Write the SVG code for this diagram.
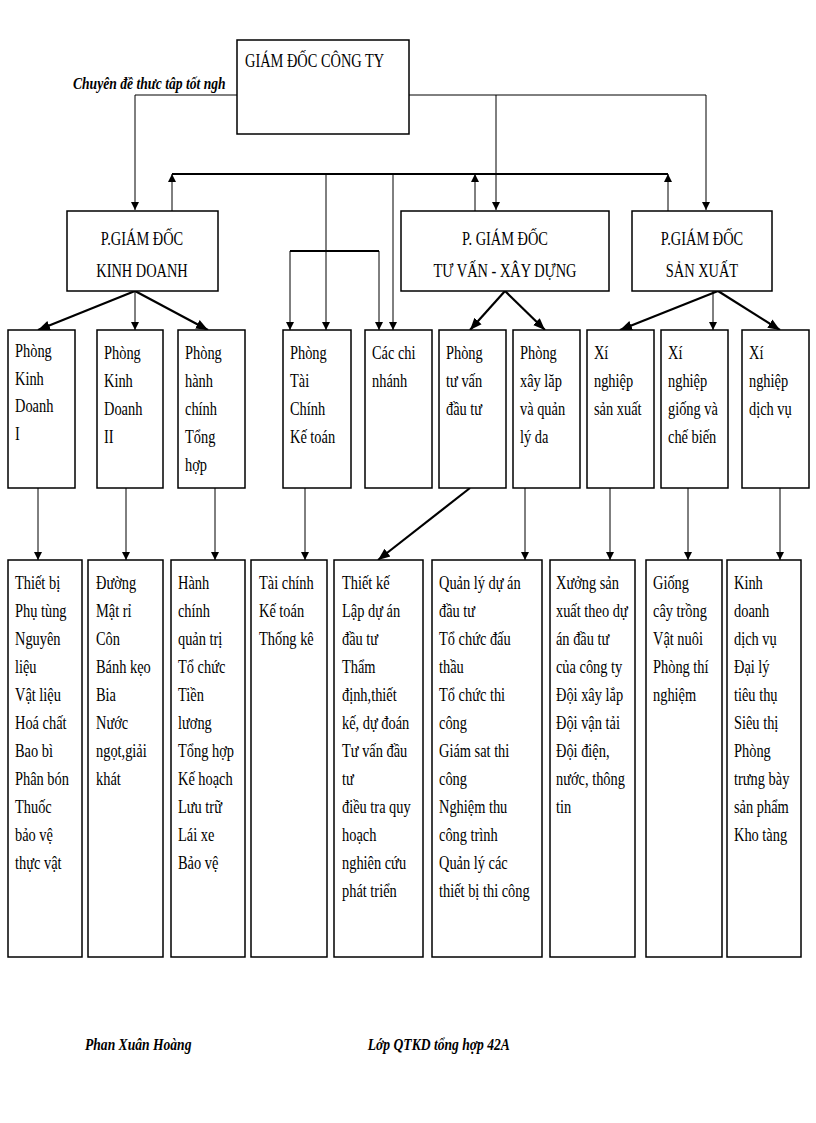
<svg xmlns="http://www.w3.org/2000/svg" width="816" height="1123" viewBox="0 0 816 1123">
<style>
rect{fill:#fff;stroke:#000;stroke-width:1.5}
text{font-family:"Liberation Serif",serif;font-size:18px;fill:#000;transform-box:fill-box;transform-origin:left center;transform:scaleX(0.8)}
.m{transform-origin:center}
.t{stroke:#000;stroke-width:1;fill:none}
.k{stroke:#000;stroke-width:2.2;fill:none}
.f{font-weight:bold;font-style:italic;font-size:17px}
</style>
<defs>
<marker id="a" viewBox="0 0 10 10" refX="10" refY="5" markerWidth="8" markerHeight="10" orient="auto" markerUnits="userSpaceOnUse"><path d="M0,0L10,5L0,10z"/></marker>
<marker id="b" viewBox="0 0 10 10" refX="10" refY="5" markerWidth="12" markerHeight="12" orient="auto" markerUnits="userSpaceOnUse"><path d="M0,1L10,5L0,9z"/></marker>
</defs>
<text class="f" x="73" y="89">Chuyên đề thưc tâp tốt ngh</text>
<g id="connectors">
<path class="t" d="M237,95H135V210" marker-end="url(#a)"/>
<path class="t" d="M409,95H706V210" marker-end="url(#a)"/>
<path class="t" d="M496,95V210" marker-end="url(#a)"/>
<path class="k" d="M172,174H668" />
<path class="t" d="M172,211V174" marker-end="url(#a)"/>
<path class="t" d="M475,211V174" marker-end="url(#a)"/>
<path class="t" d="M668,211V174" marker-end="url(#a)"/>
<path class="t" d="M326,174V330" marker-end="url(#a)"/>
<path class="t" d="M393,174V330" marker-end="url(#a)"/>
<path class="k" d="M290,251H379"/>
<path class="t" d="M290,251V330" marker-end="url(#a)"/>
<path class="t" d="M379,251V330" marker-end="url(#a)"/>
<path class="k" d="M135,291L38,330" marker-end="url(#b)"/>
<path class="t" d="M135,291V330" marker-end="url(#a)"/>
<path class="k" d="M135,291L208,330" marker-end="url(#b)"/>
<path class="k" d="M505,291L470,330" marker-end="url(#b)"/>
<path class="k" d="M505,291L545,330" marker-end="url(#b)"/>
<path class="k" d="M718,291L620,330" marker-end="url(#b)"/>
<path class="t" d="M713,291V330" marker-end="url(#a)"/>
<path class="k" d="M718,291L780,330" marker-end="url(#b)"/>
<path class="t" d="M38,488V560" marker-end="url(#a)"/>
<path class="t" d="M126,488V560" marker-end="url(#a)"/>
<path class="t" d="M215,488V560" marker-end="url(#a)"/>
<path class="t" d="M305,488V560" marker-end="url(#a)"/>
<path class="k" d="M470,488L378,560" marker-end="url(#b)"/>
<path class="t" d="M525,488V560" marker-end="url(#a)"/>
<path class="t" d="M610,488V560" marker-end="url(#a)"/>
<path class="t" d="M688,488V560" marker-end="url(#a)"/>
<path class="t" d="M780,488V560" marker-end="url(#a)"/>
</g>
<g id="gd"><rect x="237" y="40" width="172" height="94"/><text x="245" y="67">GIÁM ĐỐC CÔNG TY</text></g>
<g id="pkd"><rect x="67" y="211" width="151" height="80"/><text class="m" x="142" y="245" text-anchor="middle">P.GIÁM ĐỐC</text><text class="m" x="142" y="277" text-anchor="middle">KINH DOANH</text></g>
<g id="ptv"><rect x="401" y="211" width="208" height="80"/><text class="m" x="505" y="245" text-anchor="middle">P. GIÁM ĐỐC</text><text class="m" x="505" y="277" text-anchor="middle">TƯ VẤN - XÂY DỰNG</text></g>
<g id="psx"><rect x="632" y="211" width="140" height="80"/><text class="m" x="702" y="245" text-anchor="middle">P.GIÁM ĐỐC</text><text class="m" x="702" y="277" text-anchor="middle">SẢN XUẤT</text></g>
<g id="r1"><rect x="8" y="330" width="67" height="158"/><text x="15" y="357" font-size="15">Phòng</text><text x="15" y="385" font-size="15">Kinh</text><text x="15" y="412" font-size="15">Doanh</text><text x="15" y="440" font-size="15">I</text></g>
<g id="r2"><rect x="97" y="330" width="66" height="158"/><text x="104" y="359">Phòng</text><text x="104" y="387">Kinh</text><text x="104" y="415">Doanh</text><text x="104" y="443">II</text></g>
<g id="r3"><rect x="178" y="330" width="67" height="158"/><text x="185" y="359">Phòng</text><text x="185" y="387">hành</text><text x="185" y="415">chính</text><text x="185" y="443">Tổng</text><text x="185" y="471">hợp</text></g>
<g id="r4"><rect x="283" y="330" width="68" height="158"/><text x="290" y="359">Phòng</text><text x="290" y="387">Tài</text><text x="290" y="415">Chính</text><text x="290" y="443">Kế toán</text></g>
<g id="r5"><rect x="365" y="330" width="67" height="158"/><text x="372" y="359">Các chi</text><text x="372" y="387">nhánh</text></g>
<g id="r6"><rect x="439" y="330" width="67" height="158"/><text x="446" y="359">Phòng</text><text x="446" y="387">tư vấn</text><text x="446" y="415">đầu tư</text></g>
<g id="r7"><rect x="513" y="330" width="67" height="158"/><text x="520" y="359">Phòng</text><text x="520" y="387">xây lăp</text><text x="520" y="415">và quản</text><text x="520" y="443">lý da</text></g>
<g id="r8"><rect x="587" y="330" width="67" height="158"/><text x="594" y="359">Xí</text><text x="594" y="387">nghiệp</text><text x="594" y="415">sản xuất</text></g>
<g id="r9"><rect x="661" y="330" width="67" height="158"/><text x="668" y="359">Xí</text><text x="668" y="387">nghiệp</text><text x="668" y="415">giống và</text><text x="668" y="443">chế biến</text></g>
<g id="r10"><rect x="742" y="330" width="67" height="158"/><text x="749" y="359">Xí</text><text x="749" y="387">nghiệp</text><text x="749" y="415">dịch vụ</text></g>
<g id="b1"><rect x="8" y="560" width="74" height="397"/><text x="15" y="589">Thiết bị</text><text x="15" y="617">Phụ tùng</text><text x="15" y="645">Nguyên</text><text x="15" y="673">liệu</text><text x="15" y="701">Vật liệu</text><text x="15" y="729">Hoá chất</text><text x="15" y="757">Bao bì</text><text x="15" y="785">Phân bón</text><text x="15" y="813">Thuốc</text><text x="15" y="841">bảo vệ</text><text x="15" y="869">thực vật</text></g>
<g id="b2"><rect x="88" y="560" width="75" height="397"/><text x="96" y="589">Đường</text><text x="96" y="617">Mật rỉ</text><text x="96" y="645">Côn</text><text x="96" y="673">Bánh kẹo</text><text x="96" y="701">Bia</text><text x="96" y="729">Nước</text><text x="96" y="757">ngọt,giải</text><text x="96" y="785">khát</text></g>
<g id="b3"><rect x="171" y="560" width="74" height="397"/><text x="178" y="589">Hành</text><text x="178" y="617">chính</text><text x="178" y="645">quản trị</text><text x="178" y="673">Tổ chức</text><text x="178" y="701">Tiền</text><text x="178" y="729">lương</text><text x="178" y="757">Tổng hợp</text><text x="178" y="785">Kế hoạch</text><text x="178" y="813">Lưu trữ</text><text x="178" y="841">Lái xe</text><text x="178" y="869">Bảo vệ</text></g>
<g id="b4"><rect x="251" y="560" width="76" height="397"/><text x="259" y="589">Tài chính</text><text x="259" y="617">Kế toán</text><text x="259" y="645">Thống kê</text></g>
<g id="b5"><rect x="334" y="560" width="89" height="397"/><text x="342" y="589">Thiết kế</text><text x="342" y="617">Lập dự án</text><text x="342" y="645">đầu tư</text><text x="342" y="673">Thẩm</text><text x="342" y="701">định,thiết</text><text x="342" y="729">kế, dự đoán</text><text x="342" y="757">Tư vấn đầu</text><text x="342" y="785">tư</text><text x="342" y="813">điều tra quy</text><text x="342" y="841">hoạch</text><text x="342" y="869">nghiên cứu</text><text x="342" y="897">phát triển</text></g>
<g id="b6"><rect x="432" y="560" width="110" height="397"/><text x="439" y="589">Quản lý dự án</text><text x="439" y="617">đầu tư</text><text x="439" y="645">Tổ chức đấu</text><text x="439" y="673">thầu</text><text x="439" y="701">Tổ chức thi</text><text x="439" y="729">công</text><text x="439" y="757">Giám sat thi</text><text x="439" y="785">công</text><text x="439" y="813">Nghiệm thu</text><text x="439" y="841">công trình</text><text x="439" y="869">Quản lý các</text><text x="439" y="897">thiết bị thi công</text></g>
<g id="b7"><rect x="550" y="560" width="85" height="397"/><text x="556" y="589">Xưởng sản</text><text x="556" y="617">xuất theo dự</text><text x="556" y="645">án đầu tư</text><text x="556" y="673">của công ty</text><text x="556" y="701">Đội xây lắp</text><text x="556" y="729">Đội vận tải</text><text x="556" y="757">Đội điện,</text><text x="556" y="785">nước, thông</text><text x="556" y="813">tin</text></g>
<g id="b8"><rect x="646" y="560" width="76" height="397"/><text x="653" y="589">Giống</text><text x="653" y="617">cây trồng</text><text x="653" y="645">Vật nuôi</text><text x="653" y="673">Phòng thí</text><text x="653" y="701">nghiệm</text></g>
<g id="b9"><rect x="727" y="560" width="74" height="397"/><text x="734" y="589">Kinh</text><text x="734" y="617">doanh</text><text x="734" y="645">dịch vụ</text><text x="734" y="673">Đại lý</text><text x="734" y="701">tiêu thụ</text><text x="734" y="729"> Siêu thị</text><text x="734" y="757">Phòng</text><text x="734" y="785">trưng bày</text><text x="734" y="813">sản phẩm</text><text x="734" y="841">Kho tàng</text></g>
<text class="f" x="85" y="1050">Phan Xuân Hoàng</text>
<text class="f" x="368" y="1050">Lớp QTKD tổng hợp 42A</text>
</svg>
